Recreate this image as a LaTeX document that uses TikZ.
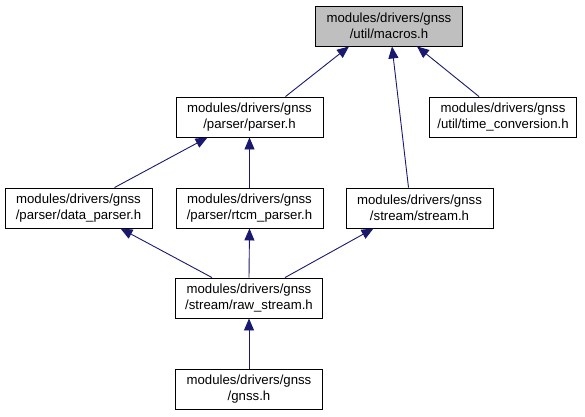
\documentclass[tikz,border=0pt]{standalone}
\usepackage{fontspec}
\setmainfont{Liberation Sans}
\definecolor{incEdge}{RGB}{25,25,112}
\definecolor{incRoot}{RGB}{191,191,191}
\usetikzlibrary{arrows.meta,positioning,calc}

\begin{document}
\begin{tikzpicture}[
    x=1pt, y=-1pt,
    file/.style={draw=black, line width=0.9pt, fill=white, align=center,
      minimum width=147pt, minimum height=40pt, inner xsep=8pt,
      font=\fontsize{13.2}{15.5}\selectfont},
    dep/.style={incEdge, line width=0.9pt, -{Triangle[length=12pt,width=10pt]}}
  ]
  \useasboundingbox (0,0) rectangle (585,416);
  % headers
  \node[file, fill=incRoot] (macros) at (389,26) {modules/drivers/gnss\\/util/macros.h};
  \node[file] (parser) at (249.5,117) {modules/drivers/gnss\\/parser/parser.h};
  \node[file] (timeconv) at (503,117) {modules/drivers/gnss\\/util/time\_conversion.h};
  \node[file] (dataparser) at (78.5,208) {modules/drivers/gnss\\/parser/data\_parser.h};
  \node[file] (rtcm) at (249.5,208) {modules/drivers/gnss\\/parser/rtcm\_parser.h};
  \node[file] (stream) at (419.5,208) {modules/drivers/gnss\\/stream/stream.h};
  \node[file] (rawstream) at (249,298) {modules/drivers/gnss\\/stream/raw\_stream.h};
  \node[file] (gnss) at (249,389) {modules/drivers/gnss\\/gnss.h};

  % include edges
  \draw[dep] ([xshift=36pt]parser.north) -- ([xshift=-40pt]macros.south);
  \draw[dep] ([xshift=-11pt]stream.north) -- ([xshift=3pt]macros.south);
  \draw[dep] ([xshift=-24pt]timeconv.north) -- ([xshift=28pt]macros.south);
  \draw[dep] ([xshift=36pt]dataparser.north) -- ([xshift=-42pt]parser.south);
  \draw[dep] (rtcm.north) -- (parser.south);
  \draw[dep] ([xshift=-37pt]rawstream.north) -- ([xshift=42pt]dataparser.south);
  \draw[dep] (rawstream.north) -- (rtcm.south);
  \draw[dep] ([xshift=36pt]rawstream.north) -- ([xshift=-46pt]stream.south);
  \draw[dep] (gnss.north) -- (rawstream.south);
\end{tikzpicture}
\end{document}
